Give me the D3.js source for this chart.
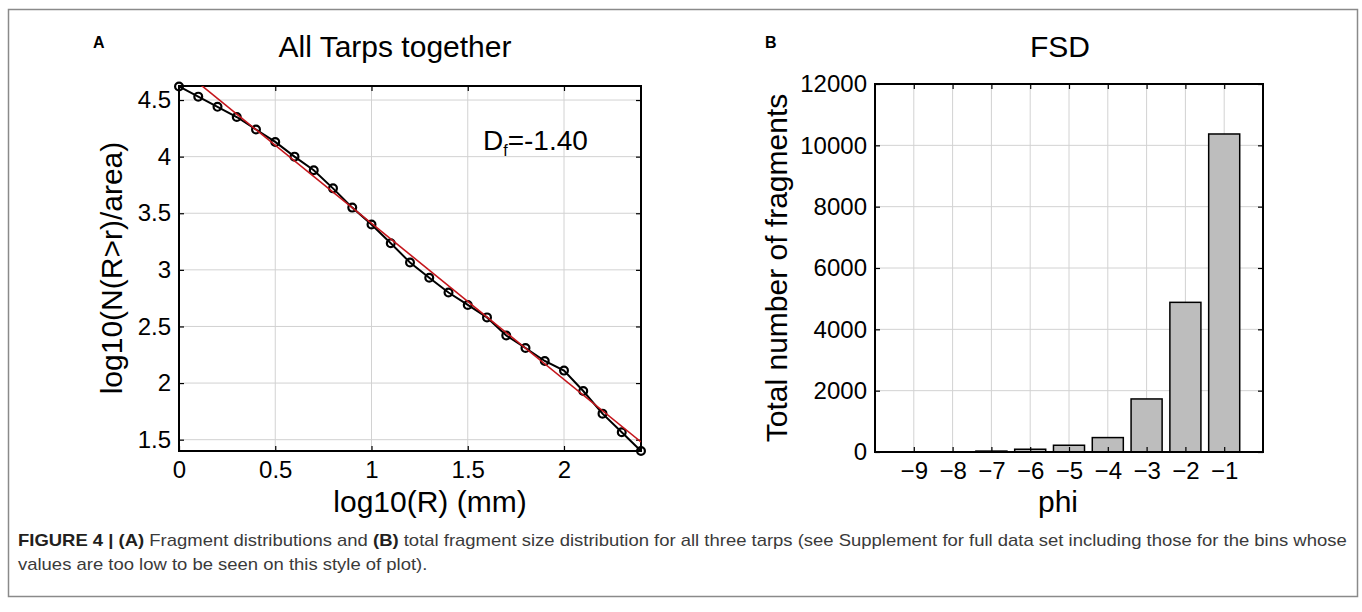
<!DOCTYPE html>
<html><head><meta charset="utf-8">
<script src="https://cdn.jsdelivr.net/npm/d3@7"></script>
<style>
html,body{margin:0;padding:0;background:#fff;}
svg{display:block;font-family:"Liberation Sans",Arial,Helvetica,sans-serif;}
</style></head>
<body>
<svg id="c" width="1362" height="612"></svg>
<script>
// ---- Panel A data ----
const logR = [0,0.1,0.2,0.3,0.4,0.5,0.6,0.7,0.8,0.9,1.0,1.1,1.2,1.3,1.4,1.5,1.6,1.7,1.8,1.9,2.0,2.1,2.2,2.3,2.4];
const logN = [4.62,4.53,4.44,4.35,4.24,4.13,4.00,3.88,3.72,3.55,3.40,3.235,3.065,2.93,2.80,2.69,2.58,2.42,2.31,2.195,2.11,1.93,1.73,1.565,1.40];
const fitX = [0, 2.4];
const fitY = [4.79, 1.48];
const xTicksA = [0,0.5,1,1.5,2];
const yTicksA = [1.5,2,2.5,3,3.5,4,4.5];
// ---- Panel B data ----
const phi = [-9,-8,-7,-6,-5,-4,-3,-2,-1];
const counts = [3,8,30,90,220,470,1730,4880,10370];
const yTicksB = [0,2000,4000,6000,8000,10000,12000];

const svg = d3.select("#c");

// outer frame
svg.append("rect").attr("x",8.5).attr("y",9.5).attr("width",1349).attr("height",587)
  .attr("fill","none").attr("stroke","#8a8a8a").attr("stroke-width",1.5);

const grid = "#d2d2d2";
const TICK = 5;

// ================= Panel A =================
const xA = d3.scaleLinear().domain([0,2.4]).range([179,641]);
const yA = d3.scaleLinear().domain([1.4,4.624]).range([451,86]);
const gA = svg.append("g");

gA.selectAll(".gx").data(xTicksA.filter(d=>d>0)).enter().append("line")
  .attr("x1",d=>xA(d)).attr("x2",d=>xA(d)).attr("y1",yA.range()[1]).attr("y2",yA.range()[0])
  .attr("stroke",grid).attr("stroke-width",1);
gA.selectAll(".gy").data(yTicksA).enter().append("line")
  .attr("y1",d=>yA(d)).attr("y2",d=>yA(d)).attr("x1",xA.range()[0]).attr("x2",xA.range()[1])
  .attr("stroke",grid).attr("stroke-width",1);

const axBA = gA.append("g").attr("transform",`translate(0,${yA.range()[0]})`)
  .call(d3.axisBottom(xA).tickValues(xTicksA).tickSize(-TICK).tickPadding(10).tickFormat(d3.format("")));
const axLA = gA.append("g").attr("transform",`translate(${xA.range()[0]},0)`)
  .call(d3.axisLeft(yA).tickValues(yTicksA).tickSize(-TICK).tickPadding(8).tickFormat(d3.format("")));
const axTA = gA.append("g").attr("transform",`translate(0,${yA.range()[1]})`)
  .call(d3.axisTop(xA).tickValues(xTicksA).tickSize(-TICK).tickFormat(""));
const axRA = gA.append("g").attr("transform",`translate(${xA.range()[1]},0)`)
  .call(d3.axisRight(yA).tickValues(yTicksA).tickSize(-TICK).tickFormat(""));
[axBA,axLA,axTA,axRA].forEach(a=>{
  a.select(".domain").remove();
  a.selectAll("line").attr("stroke","#000").attr("stroke-width",1.2);
  a.selectAll("text").attr("font-size",24).attr("fill","#000").attr("font-family","Liberation Sans, Arial, sans-serif");
});
axBA.selectAll("text").attr("dy","0.71em");

gA.append("rect").attr("x",xA.range()[0]).attr("y",yA.range()[1])
  .attr("width",xA.range()[1]-xA.range()[0]).attr("height",yA.range()[0]-yA.range()[1])
  .attr("fill","none").attr("stroke","#000").attr("stroke-width",2);

svg.append("clipPath").attr("id","clipA").append("rect")
  .attr("x",xA.range()[0]).attr("y",yA.range()[1])
  .attr("width",xA.range()[1]-xA.range()[0]).attr("height",yA.range()[0]-yA.range()[1]);

const ptsA = logR.map((x,i)=>({x:x,y:logN[i]}));
gA.append("path").datum(ptsA)
  .attr("d",d3.line().x(d=>xA(d.x)).y(d=>yA(d.y)))
  .attr("fill","none").attr("stroke","#000").attr("stroke-width",2);
gA.selectAll(".mk").data(ptsA).enter().append("circle")
  .attr("cx",d=>xA(d.x)).attr("cy",d=>yA(d.y)).attr("r",3.9)
  .attr("fill","none").attr("stroke","#000").attr("stroke-width",2.2);

const fitPts = fitX.map((x,i)=>({x:x,y:fitY[i]}));
gA.append("path").datum(fitPts).attr("clip-path","url(#clipA)")
  .attr("d",d3.line().x(d=>xA(d.x)).y(d=>yA(d.y)))
  .attr("fill","none").attr("stroke","#c4161c").attr("stroke-width",1.6);

const df = gA.append("text").attr("x",483).attr("y",150).attr("font-size",28).attr("fill","#000");
df.append("tspan").text("D");
df.append("tspan").attr("font-size",16).attr("dy",6).text("f");
df.append("tspan").attr("dy",-6).text("=-1.40");

svg.append("text").attr("x",93).attr("y",48).attr("font-size",16).attr("font-weight","bold").text("A");
svg.append("text").attr("x",395).attr("y",57).attr("font-size",30).attr("text-anchor","middle").text("All Tarps together");
svg.append("text").attr("x",430).attr("y",512).attr("font-size",30).attr("text-anchor","middle").text("log10(R) (mm)");
svg.append("text").attr("transform","translate(122,268) rotate(-90)").attr("font-size",30)
  .attr("text-anchor","middle").text("log10(N(R>r)/area)");

// ================= Panel B =================
const xB = d3.scaleLinear().domain([-10,0]).range([875,1263]);
const yB = d3.scaleLinear().domain([0,12000]).range([452,84]);
const gB = svg.append("g");

gB.selectAll(".gx").data(phi).enter().append("line")
  .attr("x1",d=>xB(d)).attr("x2",d=>xB(d)).attr("y1",yB.range()[1]).attr("y2",yB.range()[0])
  .attr("stroke",grid).attr("stroke-width",1);
gB.selectAll(".gy").data(yTicksB.filter(d=>d>0)).enter().append("line")
  .attr("y1",d=>yB(d)).attr("y2",d=>yB(d)).attr("x1",xB.range()[0]).attr("x2",xB.range()[1])
  .attr("stroke",grid).attr("stroke-width",1);

const bw = 0.8;
gB.selectAll(".bar").data(phi.map((p,i)=>({p:p,v:counts[i]}))).enter().append("rect")
  .attr("x",d=>xB(d.p-bw/2)).attr("width",xB(bw)-xB(0))
  .attr("y",d=>yB(d.v)).attr("height",d=>yB(0)-yB(d.v))
  .attr("fill","#bdbdbd").attr("stroke","#000").attr("stroke-width",1.5);

const minus = d=>d<0 ? "\u2212"+Math.abs(d) : String(d);
const axBB = gB.append("g").attr("transform",`translate(0,${yB.range()[0]})`)
  .call(d3.axisBottom(xB).tickValues(phi).tickSize(-TICK).tickPadding(10).tickFormat(minus));
const axLB = gB.append("g").attr("transform",`translate(${xB.range()[0]},0)`)
  .call(d3.axisLeft(yB).tickValues(yTicksB).tickSize(-TICK).tickPadding(8).tickFormat(d3.format("d")));
const axTB = gB.append("g").attr("transform",`translate(0,${yB.range()[1]})`)
  .call(d3.axisTop(xB).tickValues(phi).tickSize(-TICK).tickFormat(""));
const axRB = gB.append("g").attr("transform",`translate(${xB.range()[1]},0)`)
  .call(d3.axisRight(yB).tickValues(yTicksB).tickSize(-TICK).tickFormat(""));
[axBB,axLB,axTB,axRB].forEach(a=>{
  a.select(".domain").remove();
  a.selectAll("line").attr("stroke","#000").attr("stroke-width",1.2);
  a.selectAll("text").attr("font-size",24).attr("fill","#000").attr("font-family","Liberation Sans, Arial, sans-serif");
});
axBB.selectAll("text").attr("dy","0.71em");

gB.append("rect").attr("x",xB.range()[0]).attr("y",yB.range()[1])
  .attr("width",xB.range()[1]-xB.range()[0]).attr("height",yB.range()[0]-yB.range()[1])
  .attr("fill","none").attr("stroke","#000").attr("stroke-width",2);

svg.append("text").attr("x",765).attr("y",48).attr("font-size",16).attr("font-weight","bold").text("B");
svg.append("text").attr("x",1060).attr("y",57).attr("font-size",30).attr("text-anchor","middle").text("FSD");
svg.append("text").attr("x",1058).attr("y",512).attr("font-size",30).attr("text-anchor","middle").text("phi");
svg.append("text").attr("transform","translate(787,268) rotate(-90)").attr("font-size",30)
  .attr("text-anchor","middle").text("Total number of fragments");

// ================= Caption =================
const cap1 = svg.append("text").attr("x",0).attr("y",0).attr("font-size",16).attr("fill","#3a3a3a");
cap1.append("tspan").attr("font-weight","bold").attr("fill","#231f20").text("FIGURE 4 | (A)");
cap1.append("tspan").text(" Fragment distributions and ");
cap1.append("tspan").attr("font-weight","bold").attr("fill","#231f20").text("(B)");
cap1.append("tspan").text(" total fragment size distribution for all three tarps (see Supplement for full data set including those for the bins whose");
const cap2 = svg.append("text").attr("x",0).attr("y",0).attr("font-size",16).attr("fill","#3a3a3a")
  .text("values are too low to be seen on this style of plot).");
const w1 = cap1.node().getComputedTextLength();
const k = 1330 / w1;
cap1.attr("transform",`translate(18,546) scale(${k},1)`);
cap2.attr("transform",`translate(18,570) scale(${k},1)`);
</script>
</body></html>
